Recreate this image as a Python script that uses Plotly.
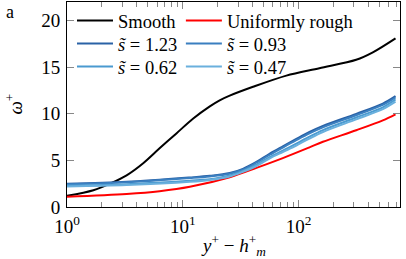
import plotly.graph_objects as go

# ---- data ----
x_smooth = [1, 1.69, 2.35, 3.27, 4.55, 6.3, 8.8, 12.3, 17.1, 20.8, 25.4, 40.4, 78.3, 151, 314, 437, 686]
y_smooth = [1.2, 1.8, 2.5, 3.4, 4.7, 6.3, 7.9, 9.5, 10.8, 11.45, 11.95, 12.9, 14.1, 14.9, 15.8, 16.6, 18.1]

x_rough = [1, 3.27, 6.3, 11.5, 25.4, 43.2, 73, 124, 162, 314, 533, 686]
y_rough = [1.1, 1.4, 1.7, 2.17, 3.2, 4.2, 5.25, 6.4, 7.0, 8.24, 9.3, 9.95]

x_blue = [1, 3.27, 11.5, 17.1, 25.4, 33, 43.2, 56, 73, 95.5, 124, 162, 314, 533, 686]
y_s123 = [2.5, 2.7, 3.17, 3.35, 3.65, 4.1, 4.85, 5.7, 6.5, 7.3, 8.05, 8.7, 10.0, 11.1, 11.9]
y_s093 = [2.45, 2.65, 3.1, 3.28, 3.57, 4.0, 4.75, 5.58, 6.38, 7.17, 7.9, 8.55, 9.85, 10.95, 11.75]
y_s062 = [2.3, 2.45, 2.82, 2.98, 3.38, 3.88, 4.55, 5.35, 6.05, 6.8, 7.55, 8.25, 9.6, 10.7, 11.55]
y_s047 = [2.2, 2.35, 2.7, 2.9, 3.28, 3.78, 4.4, 5.2, 5.9, 6.6, 7.35, 8.05, 9.4, 10.5, 11.3]

names = ["Smooth", "Uniformly rough",
         "<i>s̃</i> = 1.23", "<i>s̃</i> = 0.93",
         "<i>s̃</i> = 0.62", "<i>s̃</i> = 0.47"]
colors = ["#000000", "#ff0000", "#2a62a6", "#3a7fc0", "#4a9ad0", "#6ab0dd"]

x_tickvals = [1, 10, 100]
x_ticktext = ["10<sup>0</sup>", "10<sup>1</sup>", "10<sup>2</sup>"]
x_minorvals = [2, 3, 4, 5, 6, 7, 8, 9, 20, 30, 40, 50, 60, 70, 80, 90,
               200, 300, 400, 500, 600, 700]
y_tickvals = [0, 5, 10, 15, 20]

FONT = "Liberation Serif, DejaVu Serif, serif"

# legend layout: 2 columns x 3 rows (one small legend per entry)
leg_ids = ["legend", "legend2", "legend3", "legend4", "legend5", "legend6"]
col_x = [0.015, 0.342]
row_y = [1.0, 0.888, 0.776]

fig = go.Figure()
series = [(x_smooth, y_smooth), (x_rough, y_rough),
          (x_blue, y_s123), (x_blue, y_s093), (x_blue, y_s062), (x_blue, y_s047)]
for (xs, ys), nm, c, lg in zip(series, names, colors, leg_ids):
    fig.add_trace(go.Scatter(x=xs, y=ys, mode="lines", name=nm, legend=lg,
                             line=dict(color=c, width=2, shape="spline", smoothing=0.9)))

leg_common = dict(orientation="v", yanchor="top", xanchor="left",
                  bgcolor="rgba(0,0,0,0)", font=dict(family=FONT, size=18.5),
                  tracegroupgap=0, itemwidth=36)
legends = {}
for i, lg in enumerate(leg_ids):
    legends[lg] = dict(x=col_x[i % 2], y=row_y[i // 2], **leg_common)

fig.update_layout(
    width=406, height=259,
    margin=dict(l=67, r=6, t=2, b=52, autoexpand=False),
    paper_bgcolor="white", plot_bgcolor="white",
    font=dict(family=FONT, size=18, color="black"),
    showlegend=True,
    **legends,
)
fig.update_xaxes(type="log", range=[0, 2.875],
                 tickvals=x_tickvals, ticktext=x_ticktext,
                 ticks="inside", ticklen=7, tickcolor="#888888",
                 showline=True, linecolor="black", linewidth=1, mirror="ticks",
                 showgrid=False, zeroline=False,
                 minor=dict(tickmode="array", tickvals=x_minorvals, ticks="inside",
                            ticklen=5, tickcolor="#888888", showgrid=False),
                 ticklabelstandoff=2,
                 tickfont=dict(size=19))
fig.update_yaxes(range=[0, 22], tickvals=y_tickvals,
                 ticks="inside", ticklen=7, tickcolor="#888888",
                 showline=True, linecolor="black", linewidth=1, mirror="ticks",
                 showgrid=False, zeroline=False,
                 ticklabelstandoff=2,
                 tickfont=dict(size=19))
fig.add_annotation(text="<i>y</i><sup>+</sup> − <i>h</i><sup>+</sup><sub><i>m</i></sub>",
                   xref="paper", yref="paper", x=0.5, y=-0.19,
                   xanchor="center", yanchor="middle", showarrow=False,
                   font=dict(family=FONT, size=19))
fig.add_annotation(text="<i>ω</i><sup>+</sup>", textangle=-90,
                   xref="paper", yref="paper", x=-0.162, y=0.5,
                   xanchor="center", yanchor="middle", showarrow=False,
                   font=dict(family=FONT, size=19))
fig.add_annotation(text="a", xref="paper", yref="paper", x=-0.171, y=0.95,
                   xanchor="center", yanchor="middle", showarrow=False,
                   font=dict(family=FONT, size=18))
fig.write_html("out.html", config={"displayModeBar": False},
               post_script="document.body.style.margin='0';document.body.style.padding='0';")
